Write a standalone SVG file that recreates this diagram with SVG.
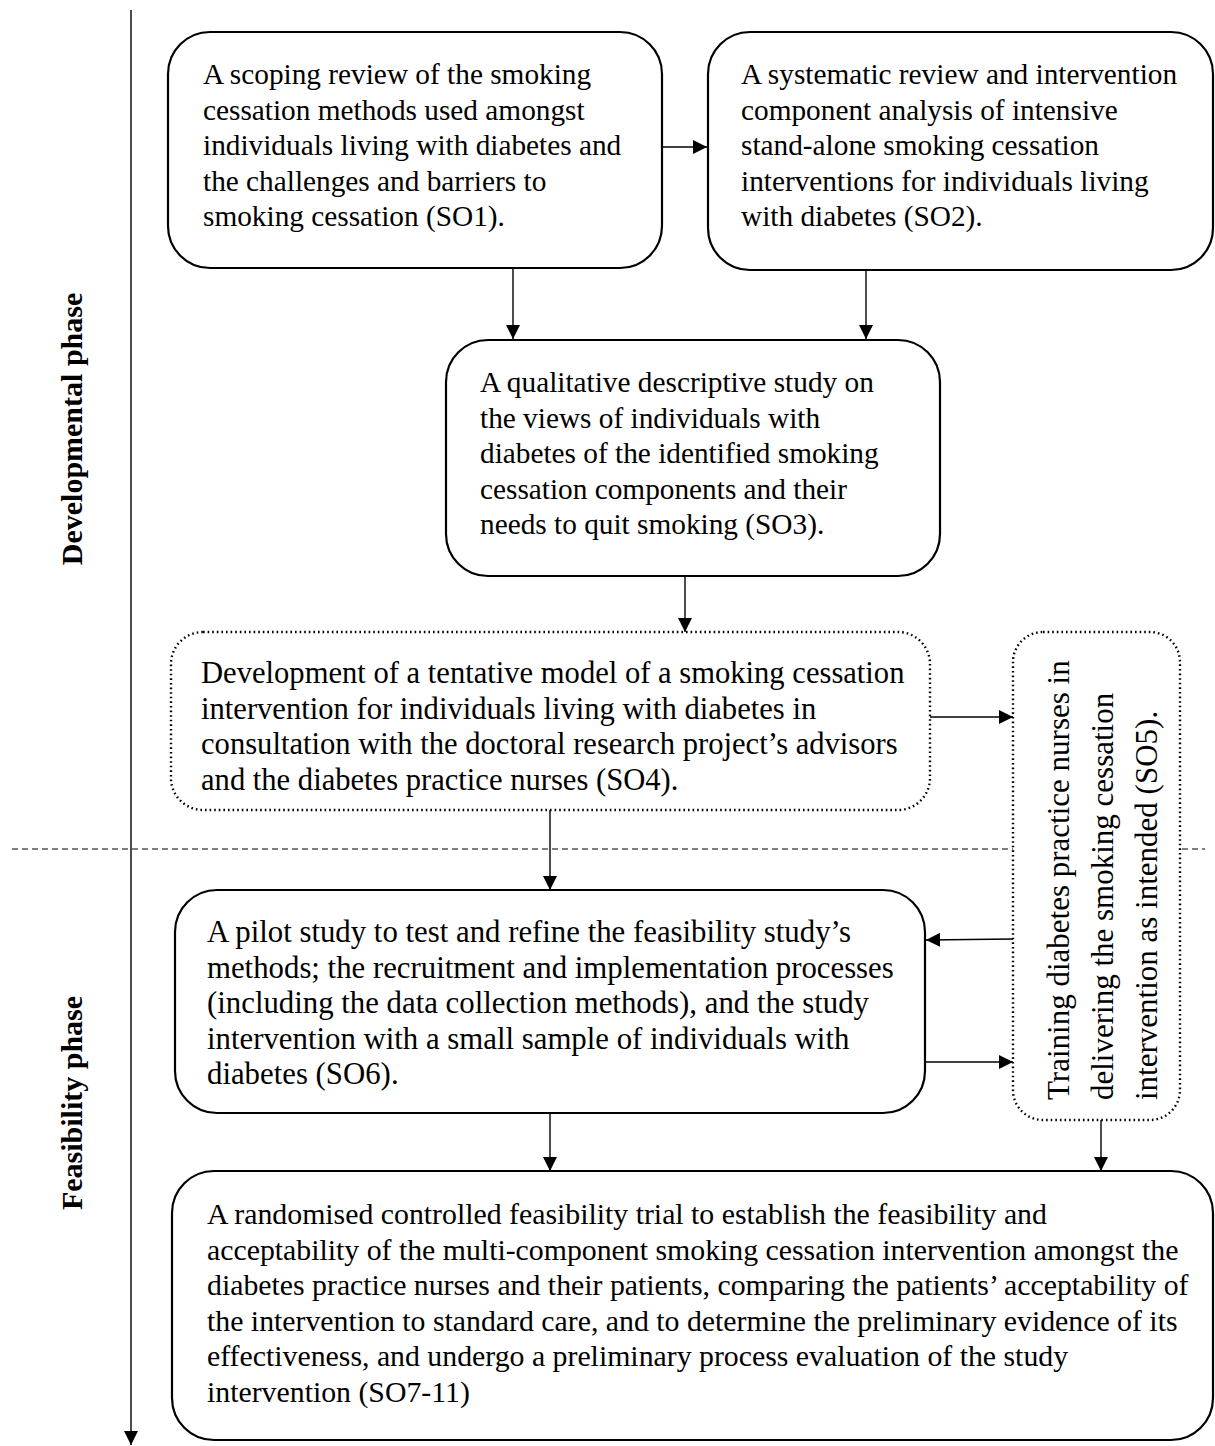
<svg xmlns="http://www.w3.org/2000/svg" width="1215" height="1446" viewBox="0 0 1215 1446">
  <style>
    .box { fill: #fff; stroke: #000; stroke-width: 2.2; }
    .dot { fill: #fff; stroke: #000; stroke-width: 2.4; stroke-dasharray: 1.6 3; }
    .t { font-family: "Liberation Serif", "Times New Roman", serif; font-size: 29.3px; fill: #000; }
    .t4 { font-size: 30.6px; }
    .t5 { font-size: 31px; }
    .t6 { font-size: 30.8px; }
    .t7 { font-size: 29.8px; }
    .ph { font-family: "Liberation Serif", "Times New Roman", serif; font-size: 30px; font-weight: bold; fill: #000; }
    .c { stroke: #000; stroke-width: 1.4; fill: none; }
  </style>
  <defs>
    <marker id="ah" viewBox="0 0 10 10" refX="10" refY="5" markerWidth="14" markerHeight="14" markerUnits="userSpaceOnUse" orient="auto">
      <path d="M0,0 L10,5 L0,10 Z" fill="#000"/>
    </marker>
  </defs>

  <!-- timeline axis and phase divider -->
  <g id="axis">
    <line class="c" x1="131" y1="10" x2="131" y2="1445" marker-end="url(#ah)"/>
    <line x1="12" y1="849" x2="1205" y2="849" stroke="#000" stroke-width="1.2" stroke-dasharray="6 4"/>
    <text class="ph" transform="translate(82,429) rotate(-90)" text-anchor="middle">Developmental phase</text>
    <text class="ph" transform="translate(82,1103) rotate(-90)" text-anchor="middle">Feasibility phase</text>
  </g>

  <!-- connectors -->
  <g id="connectors">
    <line class="c" x1="662" y1="147" x2="707" y2="147" marker-end="url(#ah)"/>
    <line class="c" x1="513" y1="268" x2="513" y2="339" marker-end="url(#ah)"/>
    <line class="c" x1="866" y1="270" x2="866" y2="339" marker-end="url(#ah)"/>
    <line class="c" x1="685" y1="576" x2="685" y2="632" marker-end="url(#ah)"/>
    <line class="c" x1="930" y1="717" x2="1013" y2="717" marker-end="url(#ah)"/>
    <line class="c" x1="550" y1="810" x2="550" y2="890" marker-end="url(#ah)"/>
    <line class="c" x1="1013" y1="939" x2="926" y2="940" marker-end="url(#ah)"/>
    <line class="c" x1="926" y1="1062" x2="1013" y2="1062" marker-end="url(#ah)"/>
    <line class="c" x1="550" y1="1113" x2="550" y2="1171" marker-end="url(#ah)"/>
    <line class="c" x1="1101" y1="1120" x2="1101" y2="1171" marker-end="url(#ah)"/>
  </g>

  <g id="so1">
    <rect class="box" x="168" y="32" width="494" height="236" rx="42"/>
    <text class="t">
      <tspan x="203" y="84">A scoping review of the smoking</tspan>
      <tspan x="203" y="119.5">cessation methods used amongst</tspan>
      <tspan x="203" y="155">individuals living with diabetes and</tspan>
      <tspan x="203" y="190.5">the challenges and barriers to</tspan>
      <tspan x="203" y="226">smoking cessation (SO1).</tspan>
    </text>
  </g>

  <g id="so2">
    <rect class="box" x="708" y="32" width="505" height="238" rx="42"/>
    <text class="t">
      <tspan x="741" y="84">A systematic review and intervention</tspan>
      <tspan x="741" y="119.5">component analysis of intensive</tspan>
      <tspan x="741" y="155">stand-alone smoking cessation</tspan>
      <tspan x="741" y="190.5">interventions for individuals living</tspan>
      <tspan x="741" y="226">with diabetes (SO2).</tspan>
    </text>
  </g>

  <g id="so3">
    <rect class="box" x="446" y="340" width="494" height="236" rx="42"/>
    <text class="t">
      <tspan x="480" y="392">A qualitative descriptive study on</tspan>
      <tspan x="480" y="427.5">the views of individuals with</tspan>
      <tspan x="480" y="463">diabetes of the identified smoking</tspan>
      <tspan x="480" y="498.5">cessation components and their</tspan>
      <tspan x="480" y="534">needs to quit smoking (SO3).</tspan>
    </text>
  </g>

  <g id="so4">
    <rect class="dot" x="171" y="632" width="759" height="178" rx="32"/>
    <text class="t t4">
      <tspan x="201" y="683">Development of a tentative model of a smoking cessation</tspan>
      <tspan x="201" y="718.5">intervention for individuals living with diabetes in</tspan>
      <tspan x="201" y="754">consultation with the doctoral research project’s advisors</tspan>
      <tspan x="201" y="789.5">and the diabetes practice nurses (SO4).</tspan>
    </text>
  </g>

  <g id="so5">
    <rect class="dot" x="1013" y="632" width="167" height="488" rx="30"/>
    <text class="t t5" transform="rotate(-90)">
      <tspan x="-1100" y="1069">Training diabetes practice nurses in</tspan>
      <tspan x="-1100" y="1113">delivering the smoking cessation</tspan>
      <tspan x="-1100" y="1157">intervention as intended (SO5).</tspan>
    </text>
  </g>

  <g id="so6">
    <rect class="box" x="175" y="890" width="750" height="223" rx="42"/>
    <text class="t t6">
      <tspan x="207" y="942">A pilot study to test and refine the feasibility study’s</tspan>
      <tspan x="207" y="977.5">methods; the recruitment and implementation processes</tspan>
      <tspan x="207" y="1013">(including the data collection methods), and the study</tspan>
      <tspan x="207" y="1048.5">intervention with a small sample of individuals with</tspan>
      <tspan x="207" y="1084">diabetes (SO6).</tspan>
    </text>
  </g>

  <g id="so7-11">
    <rect class="box" x="172" y="1171" width="1041" height="269" rx="42"/>
    <text class="t t7">
      <tspan x="207" y="1224">A randomised controlled feasibility trial to establish the feasibility and</tspan>
      <tspan x="207" y="1259.5">acceptability of the multi-component smoking cessation intervention amongst the</tspan>
      <tspan x="207" y="1295">diabetes practice nurses and their patients, comparing the patients’ acceptability of</tspan>
      <tspan x="207" y="1330.5">the intervention to standard care, and to determine the preliminary evidence of its</tspan>
      <tspan x="207" y="1366">effectiveness, and undergo a preliminary process evaluation of the study</tspan>
      <tspan x="207" y="1401.5">intervention (SO7-11)</tspan>
    </text>
  </g>
</svg>
